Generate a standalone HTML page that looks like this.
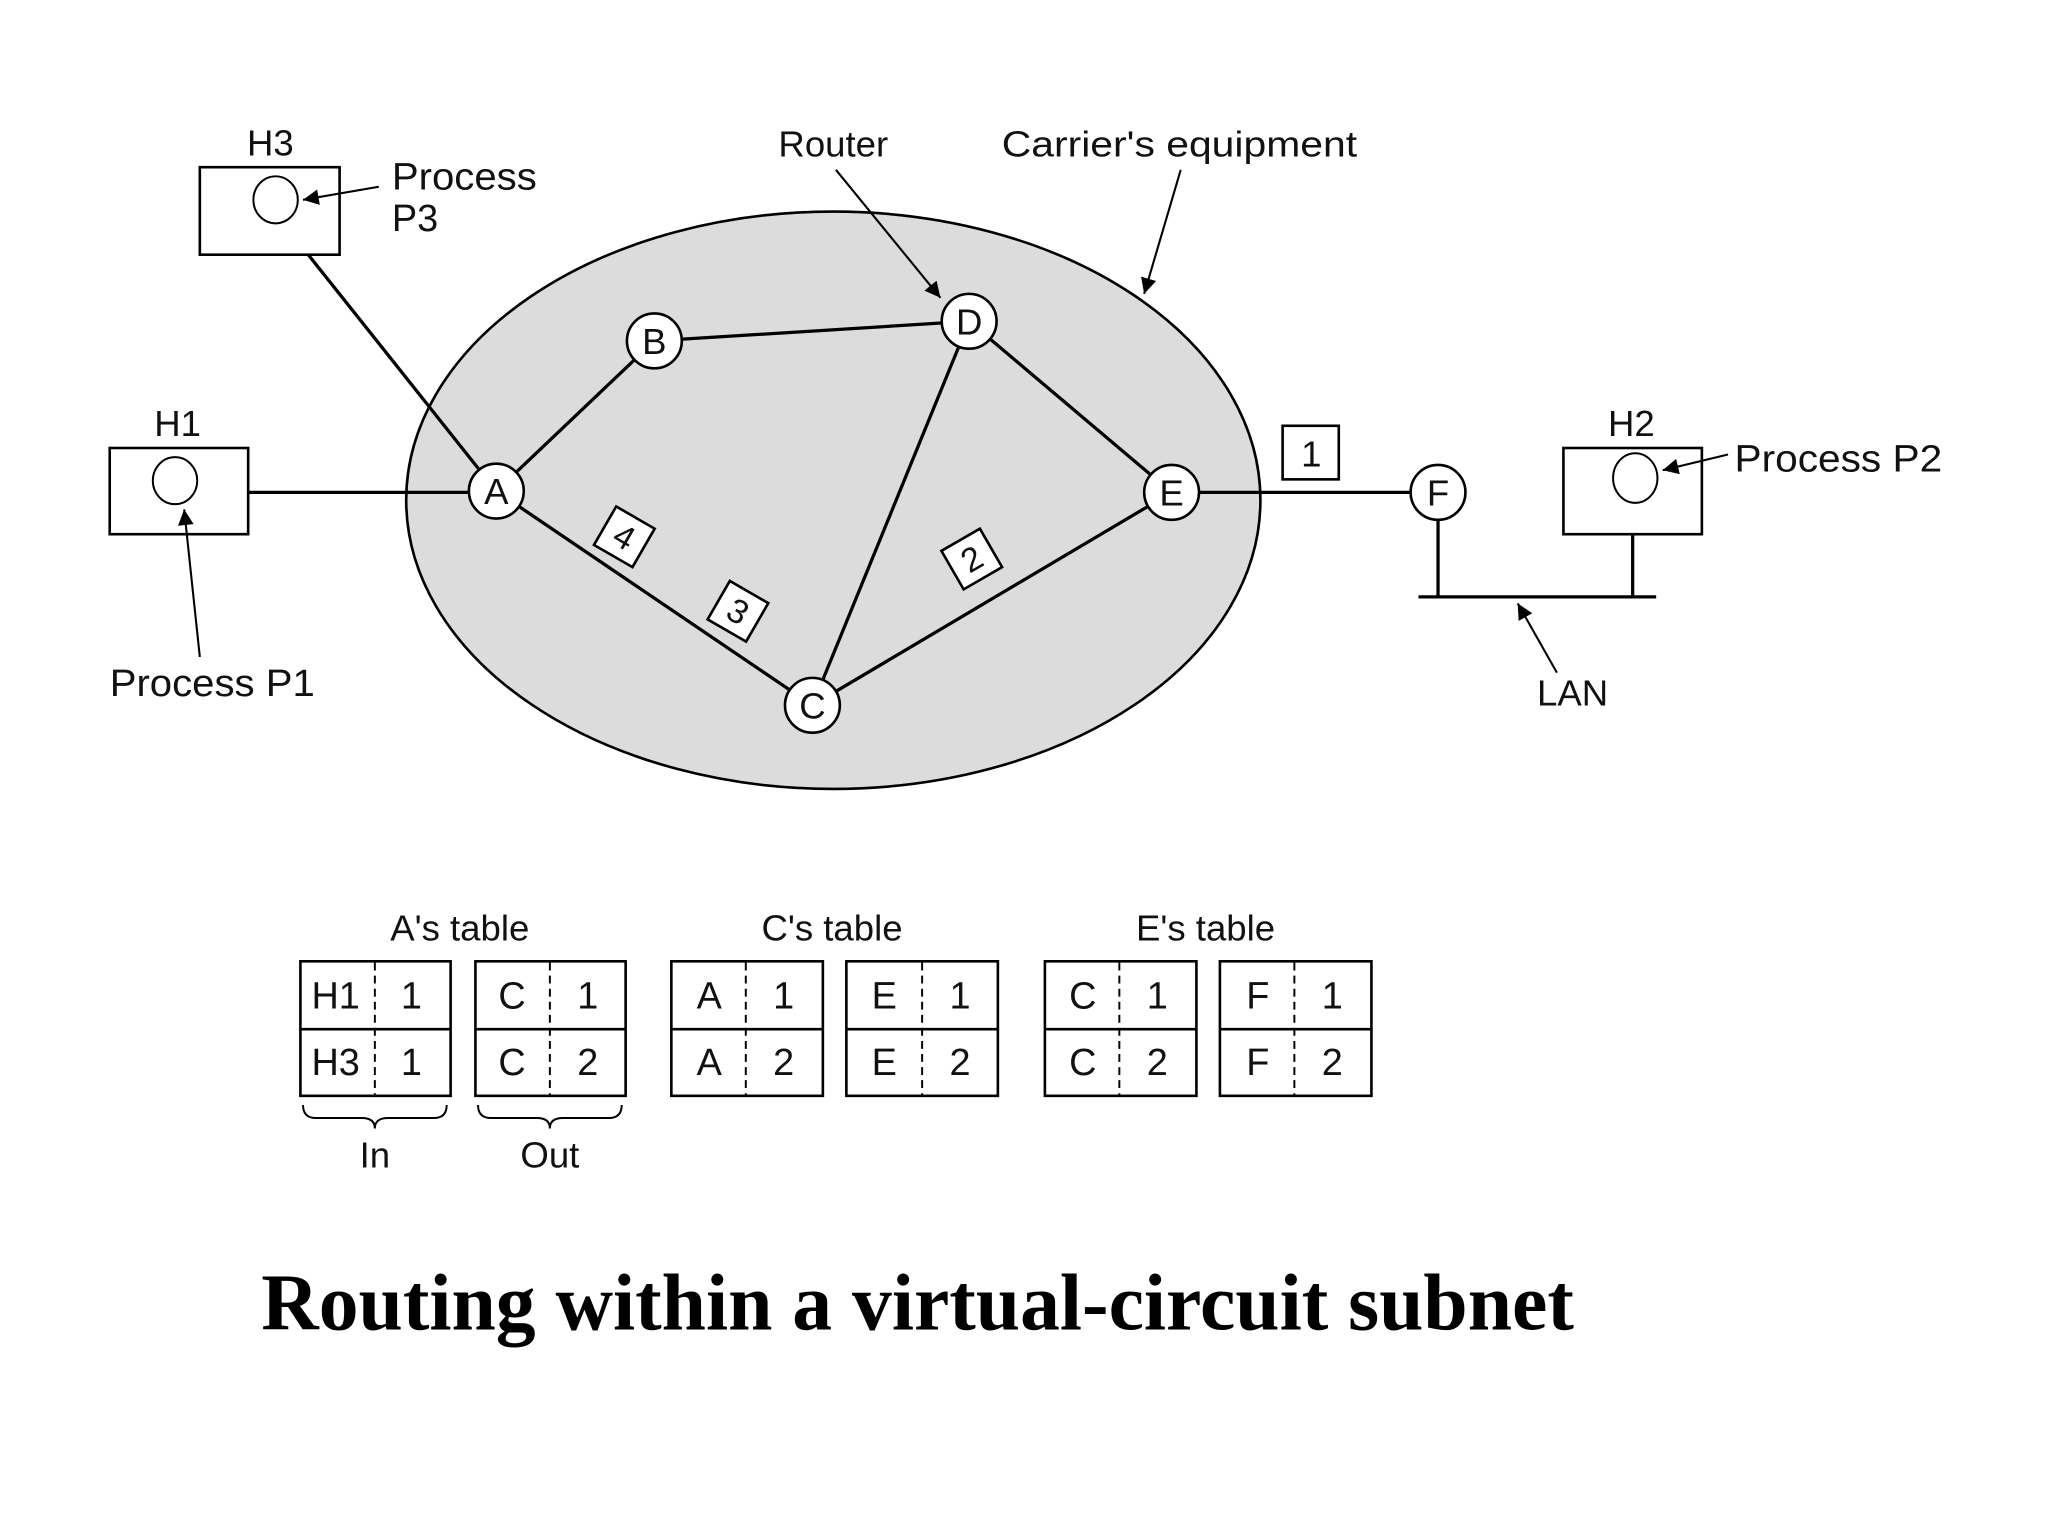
<!DOCTYPE html>
<html><head><meta charset="utf-8"><style>html,body{margin:0;padding:0;background:#fff}svg{display:block}</style></head>
<body>
<svg width="2048" height="1536" viewBox="0 0 1568 1176" xmlns="http://www.w3.org/2000/svg" font-family="Liberation Sans, sans-serif">
<defs>
<marker id="ar2" viewBox="0 0 10 10" refX="10" refY="5" markerWidth="22" markerHeight="12" markerUnits="userSpaceOnUse" orient="auto"><path d="M0,0 L10,5 L0,10z" fill="#000"/></marker></defs>
<rect width="1568" height="1176" fill="#fff"/>
<ellipse cx="638" cy="383" rx="327" ry="221" fill="#dcdcdc" stroke="#000" stroke-width="2"/>
<g stroke="#000" stroke-width="2.5" fill="none">
<line x1="236" y1="195" x2="380" y2="376"/>
<line x1="190" y1="377" x2="380" y2="377"/>
<line x1="380" y1="376" x2="501" y2="261"/>
<line x1="501" y1="261" x2="742" y2="246"/>
<line x1="742" y1="246" x2="897" y2="377"/>
<line x1="742" y1="246" x2="622" y2="540"/>
<line x1="380" y1="376" x2="622" y2="540"/>
<line x1="622" y1="540" x2="897" y2="377"/>
<line x1="897" y1="377" x2="1101" y2="377"/>
<line x1="1101" y1="398" x2="1101" y2="457"/>
<line x1="1250" y1="409" x2="1250" y2="457"/>
<line x1="1086" y1="457" x2="1268" y2="457"/>
</g>
<g stroke="#000" stroke-width="2" fill="#fff">
<rect x="153" y="128" width="107" height="67"/>
<rect x="84" y="343" width="106" height="66"/>
<rect x="1197" y="343" width="106" height="66"/>
<rect x="982" y="326" width="43" height="41"/>
</g>
<g stroke="#000" stroke-width="1.5" fill="none">
<ellipse cx="211" cy="153" rx="17" ry="18"/>
<ellipse cx="134" cy="368" rx="17" ry="18"/>
<ellipse cx="1252" cy="366" rx="17" ry="19"/>
</g>
<g stroke="#000" stroke-width="1.6" fill="#000">
<line x1="290" y1="143" x2="232" y2="153" marker-end="url(#ar2)"/>
<line x1="153" y1="503" x2="141" y2="390" marker-end="url(#ar2)"/>
<line x1="1323" y1="348" x2="1273" y2="360" marker-end="url(#ar2)"/>
<line x1="1192" y1="515" x2="1162" y2="462" marker-end="url(#ar2)"/>
<line x1="640" y1="130" x2="720" y2="228" marker-end="url(#ar2)"/>
<line x1="904" y1="130" x2="876" y2="225" marker-end="url(#ar2)"/>
</g>
<g stroke="#000" stroke-width="2" fill="#fff">
<circle cx="380" cy="376" r="21"/><circle cx="501" cy="261" r="21"/><circle cx="742" cy="246" r="21"/>
<circle cx="897" cy="377" r="21"/><circle cx="622" cy="540" r="21"/><circle cx="1101" cy="377" r="21"/>
</g>
<g font-size="28" text-anchor="middle" fill="#111">
<text x="380" y="386">A</text><text x="501" y="271">B</text><text x="742" y="256">D</text>
<text x="897" y="387">E</text><text x="622" y="550">C</text><text x="1101" y="387">F</text>
<text x="1004" y="357">1</text>
<text x="207" y="119">H3</text><text x="136" y="334">H1</text><text x="1249" y="334">H2</text>
<text x="638" y="120">Router</text><text x="903" y="120" textLength="272" lengthAdjust="spacingAndGlyphs">Carrier's equipment</text>
<text x="1204" y="540">LAN</text>
</g>
<g font-size="29" fill="#111">
<text x="300" y="145" textLength="111" lengthAdjust="spacingAndGlyphs">Process</text><text x="300" y="177">P3</text>
<text x="84" y="533" textLength="157" lengthAdjust="spacingAndGlyphs">Process P1</text>
<text x="1328" y="361" textLength="159" lengthAdjust="spacingAndGlyphs">Process P2</text>
</g>
<g stroke="#000" stroke-width="2" fill="#fff" font-size="26" text-anchor="middle">
<g transform="translate(478,411) rotate(30)"><rect x="-17" y="-17" width="34" height="34"/><text x="0" y="9" fill="#111" stroke="none">4</text></g>
<g transform="translate(565,468) rotate(30)"><rect x="-17" y="-17" width="34" height="34"/><text x="0" y="9" fill="#111" stroke="none">3</text></g>
<g transform="translate(744,428) rotate(-30)"><rect x="-17" y="-17" width="34" height="34"/><text x="0" y="9" fill="#111" stroke="none">2</text></g>
</g>
<g font-size="28" text-anchor="middle" fill="#111">
<text x="352" y="720">A's table</text><text x="637" y="720">C's table</text><text x="923" y="720">E's table</text>
<text x="287" y="894">In</text><text x="421" y="894">Out</text>
</g>
<g stroke="#000" stroke-width="2" fill="#fff">
<rect x="230" y="736" width="115" height="103"/><rect x="364" y="736" width="115" height="103"/>
<rect x="514" y="736" width="116" height="103"/><rect x="648" y="736" width="116" height="103"/>
<rect x="800" y="736" width="116" height="103"/><rect x="934" y="736" width="116" height="103"/>
</g>
<g stroke="#000" stroke-width="2">
<line x1="230" y1="788" x2="345" y2="788"/><line x1="364" y1="788" x2="479" y2="788"/>
<line x1="514" y1="788" x2="630" y2="788"/><line x1="648" y1="788" x2="764" y2="788"/>
<line x1="800" y1="788" x2="916" y2="788"/><line x1="934" y1="788" x2="1050" y2="788"/>
</g>
<g stroke="#000" stroke-width="1.5" stroke-dasharray="6,4">
<line x1="287" y1="737" x2="287" y2="838"/><line x1="421" y1="737" x2="421" y2="838"/>
<line x1="571" y1="737" x2="571" y2="838"/><line x1="706" y1="737" x2="706" y2="838"/>
<line x1="857" y1="737" x2="857" y2="838"/><line x1="991" y1="737" x2="991" y2="838"/>
</g>
<g font-size="29" text-anchor="middle" fill="#111">
<text x="257" y="772">H1</text><text x="315" y="772">1</text><text x="257" y="823">H3</text><text x="315" y="823">1</text>
<text x="392" y="772">C</text><text x="450" y="772">1</text><text x="392" y="823">C</text><text x="450" y="823">2</text>
<text x="543" y="772">A</text><text x="600" y="772">1</text><text x="543" y="823">A</text><text x="600" y="823">2</text>
<text x="677" y="772">E</text><text x="735" y="772">1</text><text x="677" y="823">E</text><text x="735" y="823">2</text>
<text x="829" y="772">C</text><text x="886" y="772">1</text><text x="829" y="823">C</text><text x="886" y="823">2</text>
<text x="963" y="772">F</text><text x="1020" y="772">1</text><text x="963" y="823">F</text><text x="1020" y="823">2</text>
</g>
<g stroke="#000" stroke-width="1.5" fill="none">
<path d="M232,846 q0,10 10,10 h35 q10,0 10,8 q0,-8 10,-8 h35 q10,0 10,-10"/>
<path d="M366,846 q0,10 10,10 h35 q10,0 10,8 q0,-8 10,-8 h35 q10,0 10,-10"/>
</g>
<text x="200" y="1018" font-family="Liberation Serif, serif" font-weight="bold" font-size="62" textLength="1005" lengthAdjust="spacingAndGlyphs" fill="#000">Routing within a virtual-circuit subnet</text>
</svg>
</body></html>
